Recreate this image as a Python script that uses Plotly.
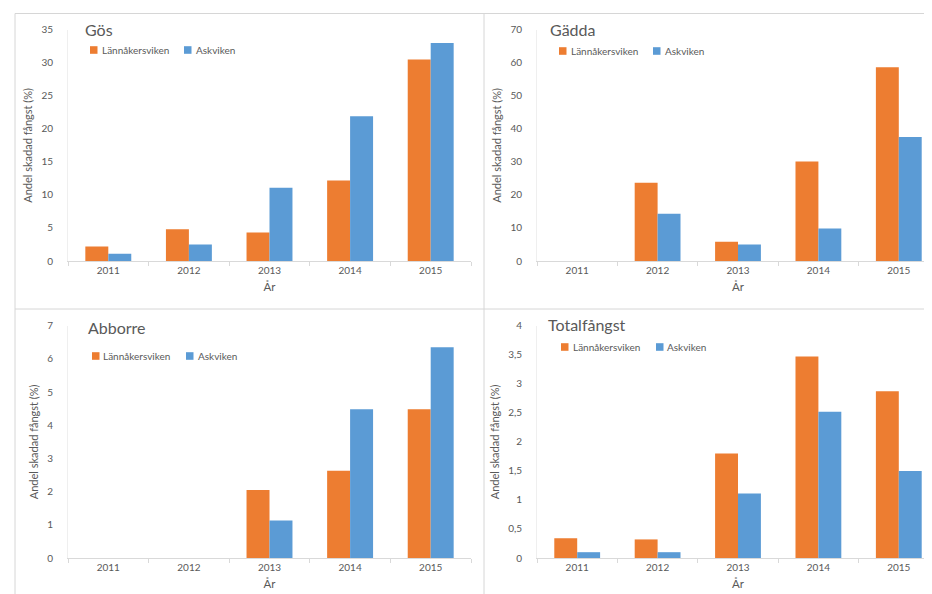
import plotly.graph_objects as go

# ---------------- data ----------------
years = ["2011", "2012", "2013", "2014", "2015"]
series_names = ["Lännåkersviken", "Askviken"]

gos_lannaker = [2.2, 4.8, 4.3, 12.2, 30.5]
gos_askviken = [1.1, 2.5, 11.1, 21.9, 33.0]

gadda_lannaker = [None, 23.7, 5.8, 30.1, 58.6]
gadda_askviken = [None, 14.3, 5.0, 9.8, 37.5]

abborre_lannaker = [None, None, 2.05, 2.63, 4.48]
abborre_askviken = [None, None, 1.13, 4.48, 6.35]

total_lannaker = [0.34, 0.32, 1.80, 3.47, 2.87]
total_askviken = [0.10, 0.10, 1.11, 2.52, 1.50]

panel_titles = ["Gös", "Gädda", "Abborre", "Totalfångst"]
y_ranges = [[0, 35], [0, 70], [0, 7], [0, 4]]
y_dticks = [5, 10, 1, 0.5]
x_title = "År"
y_title = "Andel skadad fångst (%)"

# ---------------- style ----------------
W, H = 932, 594
ORANGE = "#ED7D31"
BLUE = "#5B9BD5"
TXT = "#595959"
AXL = "#D9D9D9"
FONT = "Lato"


def px(x):
    return x / W


def py(y):
    return 1 - y / H


# panel geometry in pixels: (x0, x1, ytop, ybottom)
panels = [
    (60, 463, 21.7, 253),
    (529, 931, 21.7, 253),
    (60, 463, 317.7, 550),
    (529, 931, 317.7, 550),
]

data_pairs = [
    (gos_lannaker, gos_askviken),
    (gadda_lannaker, gadda_askviken),
    (abborre_lannaker, abborre_askviken),
    (total_lannaker, total_askviken),
]

fig = go.Figure()
layout_axes = {}
for i, ((x0, x1, yt, yb), (a, b)) in enumerate(zip(panels, data_pairs)):
    n = "" if i == 0 else str(i + 1)
    xa, ya = "x" + n, "y" + n
    for vals, name, col in [(a, series_names[0], ORANGE), (b, series_names[1], BLUE)]:
        fig.add_trace(go.Bar(x=years, y=vals, name=name, marker_color=col,
                             marker_line_width=0, xaxis=xa, yaxis=ya,
                             showlegend=False))
    layout_axes["xaxis" + n] = dict(
        domain=[px(x0), px(x1)], anchor=ya, type="category",
        showline=True, linecolor=AXL, linewidth=1,
        ticks="outside", tickson="boundaries", ticklen=4, tickcolor=AXL,
        showgrid=False, zeroline=False,
        tickfont=dict(family=FONT, size=10, color=TXT),
        title=dict(text=x_title, font=dict(family=FONT, size=11.5, color=TXT), standoff=7),
        automargin=False, fixedrange=True,
    )
    layout_axes["yaxis" + n] = dict(
        domain=[py(yb), py(yt)], anchor=xa,
        range=y_ranges[i], dtick=y_dticks[i], tick0=0,
        showline=True, linecolor="#EFEFEF", linewidth=1,
        showgrid=False, zeroline=False, ticks="",
        ticklabelstandoff=12,
        tickfont=dict(family=FONT, size=10, color=TXT),
        title=dict(text=y_title, font=dict(family=FONT, size=11, color=TXT), standoff=6),
        automargin=False, fixedrange=True,
    )

fig.update_layout(**layout_axes)

# titles (pixel positions: left x, centre y)
title_pos = [(75, 21), (540, 22), (78, 319.5), (538, 316)]
annotations = []
for t, (tx, ty) in zip(panel_titles, title_pos):
    annotations.append(dict(text=t, x=px(tx), y=py(ty), xref="paper", yref="paper",
                            xanchor="left", yanchor="middle", showarrow=False,
                            font=dict(family=FONT, size=16, color=TXT)))

# legends: (orange square x, text x, blue square x, text x, centre y)
legend_pos = [
    (82, 92, 176, 186, 42),
    (551, 561, 645, 655, 43),
    (84, 93, 178, 188, 348),
    (553, 563, 648, 657, 339),
]
shapes = []
for (ox, otx, bx, btx, cy) in legend_pos:
    for sx, tx, col, name in [(ox, otx, ORANGE, series_names[0]), (bx, btx, BLUE, series_names[1])]:
        shapes.append(dict(type="rect", xref="paper", yref="paper",
                           x0=px(sx), x1=px(sx + 7.5), y0=py(cy + 3.8), y1=py(cy - 3.8),
                           fillcolor=col, line_width=0))
        annotations.append(dict(text=name, x=px(tx), y=py(cy), xref="paper", yref="paper",
                                xanchor="left", yanchor="middle", showarrow=False,
                                font=dict(family=FONT, size=10, color=TXT)))

# chart-area borders
BORDER = "#D6D6D6"
for (xa0, ya0, xa1, ya1) in [(7, 5.5, 932, 5.5), (7, 5.5, 7, 594), (476, 5.5, 476, 594),
                             (7, 301, 932, 301)]:
    shapes.append(dict(type="line", xref="paper", yref="paper",
                       x0=px(xa0), y0=py(ya0), x1=px(xa1), y1=py(ya1),
                       line=dict(color=BORDER, width=1)))

fig.update_layout(
    width=W, height=H,
    margin=dict(l=0, r=0, t=0, b=0),
    paper_bgcolor="white", plot_bgcolor="white",
    barmode="group", bargap=0.43, bargroupgap=0,
    separators=", ",
    annotations=annotations, shapes=shapes,
    font=dict(family=FONT, color=TXT),
)

fig.write_html("out.html")
